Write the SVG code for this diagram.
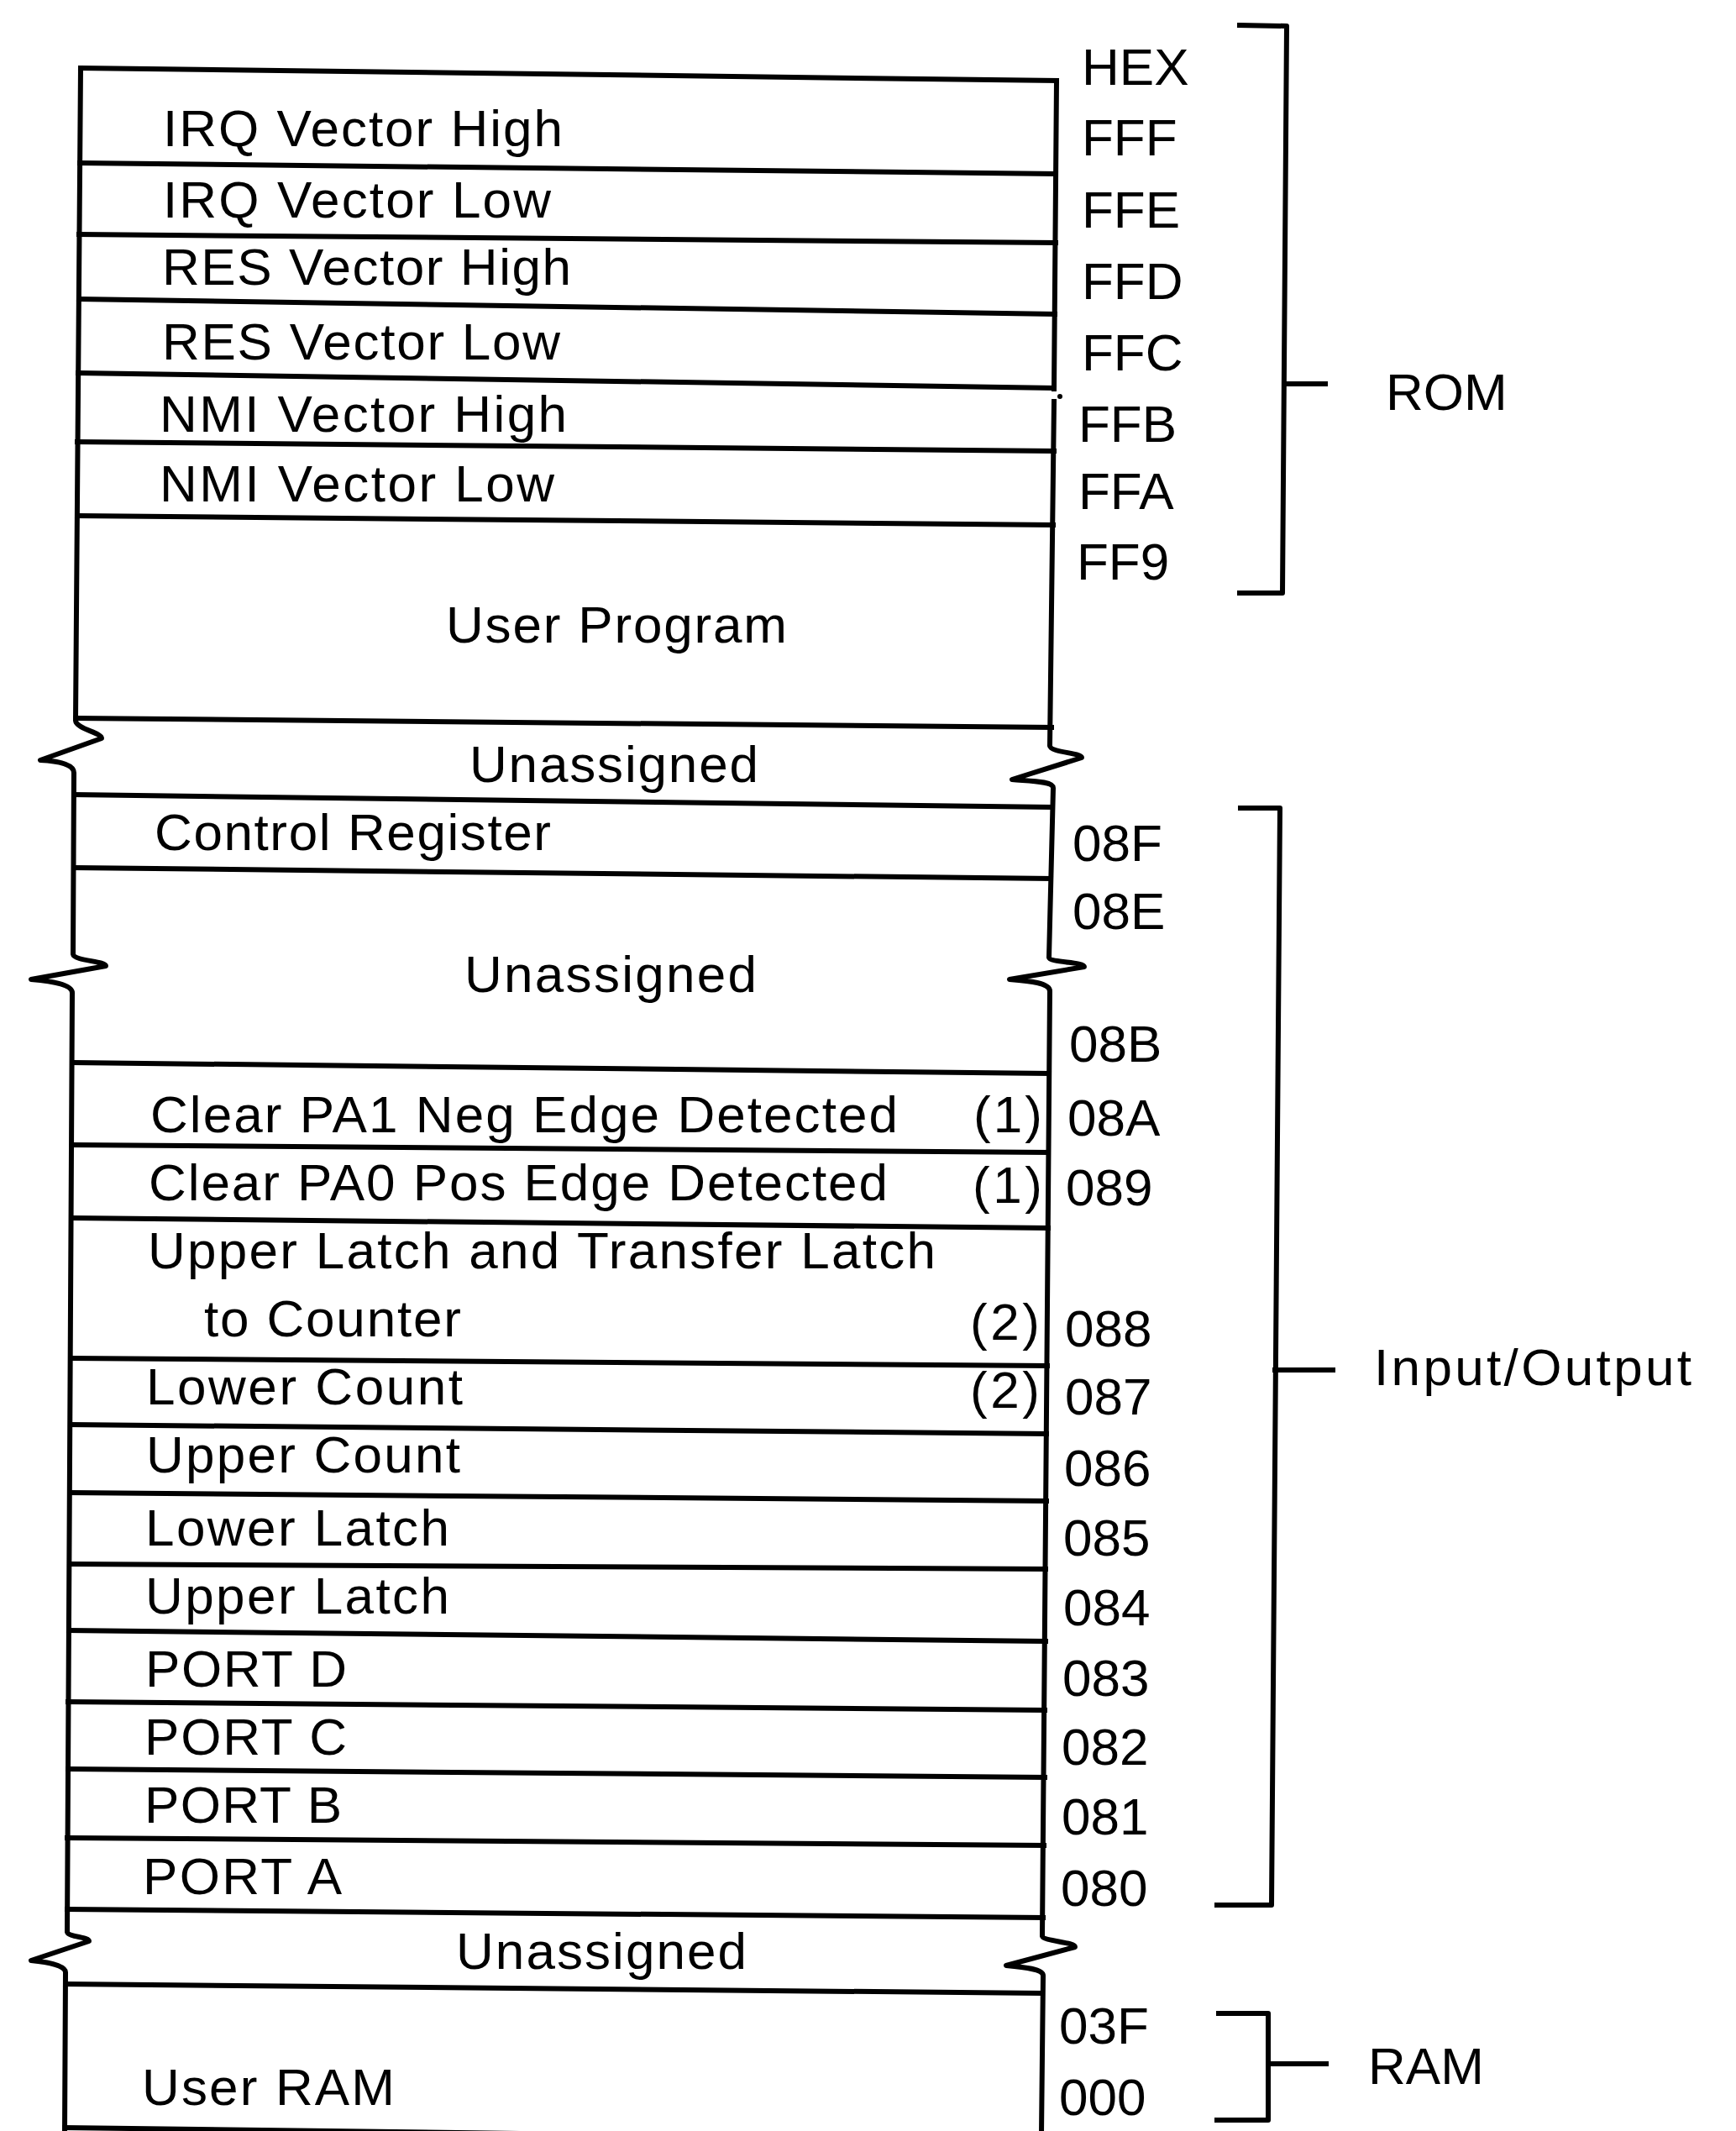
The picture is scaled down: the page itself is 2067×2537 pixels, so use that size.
<svg xmlns="http://www.w3.org/2000/svg" width="2067" height="2537" viewBox="0 0 2067 2537">
<style>
.ln{stroke:#000;stroke-width:6;fill:none;stroke-linecap:square;stroke-linejoin:round}
.t{font-family:"Liberation Sans",Arial,Helvetica,sans-serif;font-size:62px;fill:#000}
.a{font-family:"Liberation Sans",Arial,Helvetica,sans-serif;font-size:62px;fill:#000}
</style>
<rect width="2067" height="2537" fill="#fff"/>
<g id="frame">
<path class="ln" d="M96,81 L90,858 C91,868 121,872 121,879 L48,905 C70,906 88,910 88,920 L87,1136 C88,1144 126,1144 126,1150 L37,1166 C60,1168 86,1172 86,1182 L80,2300 C81,2306 106,2306 106,2311 L37,2334 C58,2336 78,2340 78,2348 L77,2540"/>
<path class="ln" d="M1258,96 L1255,463"/>
<path class="ln" d="M1255,478 L1250,888 C1251,896 1288,896 1288,902 L1205,928 C1230,930 1254,930 1254,938 L1249,1140 C1250,1146 1291,1145 1291,1151 L1202,1166 C1226,1168 1250,1170 1250,1180 L1241,2305 C1242,2311 1280,2312 1280,2318 L1198,2340 C1220,2342 1242,2344 1242,2352 L1240,2540"/>
<circle cx="1262" cy="472" r="3" fill="#000"/>
<path class="ln" d="M96,81 L1258,96"/>
<path class="ln" d="M95,194 L1257,207"/>
<path class="ln" d="M94,279 L1257,289"/>
<path class="ln" d="M94,356 L1256,374"/>
<path class="ln" d="M93,444 L1255,462"/>
<path class="ln" d="M92,526 L1255,537"/>
<path class="ln" d="M92,614 L1254,625"/>
<path class="ln" d="M90,855 L1252,866"/>
<path class="ln" d="M89,946 L1252,961"/>
<path class="ln" d="M89,1033 L1251,1046"/>
<path class="ln" d="M87,1265 L1249,1278"/>
<path class="ln" d="M86,1363 L1248,1372"/>
<path class="ln" d="M86,1450 L1248,1462"/>
<path class="ln" d="M84,1617 L1247,1626"/>
<path class="ln" d="M84,1696 L1246,1707"/>
<path class="ln" d="M83,1777 L1246,1787"/>
<path class="ln" d="M83,1862 L1245,1868"/>
<path class="ln" d="M82,1941 L1245,1954"/>
<path class="ln" d="M81,2026 L1244,2036"/>
<path class="ln" d="M81,2106 L1244,2116"/>
<path class="ln" d="M80,2188 L1243,2197"/>
<path class="ln" d="M80,2273 L1242,2283"/>
<path class="ln" d="M78,2362 L1241,2373"/>
<path class="ln" d="M77,2533 L1240,2548"/>
</g>
<g id="irq-high"><text class="t" x="194" y="174" textLength="476" lengthAdjust="spacing">IRQ Vector High</text><text class="a" x="1288" y="101">HEX</text><text class="a" x="1288" y="185">FFF</text></g>
<g id="irq-low"><text class="t" x="194" y="259" textLength="462" lengthAdjust="spacing">IRQ Vector Low</text><text class="a" x="1288" y="271">FFE</text></g>
<g id="res-high"><text class="t" x="193" y="339" textLength="487" lengthAdjust="spacing">RES Vector High</text><text class="a" x="1288" y="356">FFD</text></g>
<g id="res-low"><text class="t" x="193" y="428" textLength="474" lengthAdjust="spacing">RES Vector Low</text><text class="a" x="1288" y="441">FFC</text></g>
<g id="nmi-high"><text class="t" x="190" y="514" textLength="485" lengthAdjust="spacing">NMI Vector High</text><text class="a" x="1284" y="526">FFB</text></g>
<g id="nmi-low"><text class="t" x="190" y="597" textLength="470" lengthAdjust="spacing">NMI Vector Low</text><text class="a" x="1284" y="606">FFA</text></g>
<g id="user-program"><text class="t" x="531" y="765" textLength="406" lengthAdjust="spacing">User Program</text><text class="a" x="1282" y="690">FF9</text></g>
<g id="unassigned-1"><text class="t" x="559" y="931" textLength="344" lengthAdjust="spacing">Unassigned</text></g>
<g id="control-register"><text class="t" x="184" y="1012" textLength="472" lengthAdjust="spacing">Control Register</text><text class="a" x="1277" y="1025">08F</text></g>
<g id="unassigned-2"><text class="t" x="553" y="1181" textLength="348" lengthAdjust="spacing">Unassigned</text><text class="a" x="1277" y="1106">08E</text><text class="a" x="1273" y="1264">08B</text></g>
<g id="clear-pa1"><text class="t" x="179" y="1348" textLength="890" lengthAdjust="spacing">Clear PA1 Neg Edge Detected</text><text class="t" x="1159" y="1348" textLength="82" lengthAdjust="spacing">(1)</text><text class="a" x="1271" y="1352">08A</text></g>
<g id="clear-pa0"><text class="t" x="177" y="1429" textLength="880" lengthAdjust="spacing">Clear PA0 Pos Edge Detected</text><text class="t" x="1158" y="1432" textLength="83" lengthAdjust="spacing">(1)</text><text class="a" x="1269" y="1435">089</text></g>
<g id="upper-latch-transfer"><text class="t" x="176" y="1510" textLength="938" lengthAdjust="spacing">Upper Latch and Transfer Latch</text><text class="t" x="243" y="1591" textLength="306" lengthAdjust="spacing">to Counter</text><text class="t" x="1155" y="1595" textLength="83" lengthAdjust="spacing">(2)</text><text class="a" x="1268" y="1603">088</text></g>
<g id="lower-count"><text class="t" x="174" y="1672" textLength="377" lengthAdjust="spacing">Lower Count</text><text class="t" x="1155" y="1676" textLength="83" lengthAdjust="spacing">(2)</text><text class="a" x="1268" y="1684">087</text></g>
<g id="upper-count"><text class="t" x="174" y="1753" textLength="374" lengthAdjust="spacing">Upper Count</text><text class="a" x="1267" y="1769">086</text></g>
<g id="lower-latch"><text class="t" x="173" y="1840" textLength="362" lengthAdjust="spacing">Lower Latch</text><text class="a" x="1266" y="1852">085</text></g>
<g id="upper-latch"><text class="t" x="173" y="1921" textLength="362" lengthAdjust="spacing">Upper Latch</text><text class="a" x="1266" y="1935">084</text></g>
<g id="port-d"><text class="t" x="173" y="2008" textLength="240" lengthAdjust="spacing">PORT D</text><text class="a" x="1265" y="2019">083</text></g>
<g id="port-c"><text class="t" x="172" y="2089" textLength="241" lengthAdjust="spacing">PORT C</text><text class="a" x="1264" y="2101">082</text></g>
<g id="port-b"><text class="t" x="172" y="2170" textLength="235" lengthAdjust="spacing">PORT B</text><text class="a" x="1264" y="2184">081</text></g>
<g id="port-a"><text class="t" x="170" y="2255" textLength="237" lengthAdjust="spacing">PORT A</text><text class="a" x="1263" y="2269">080</text></g>
<g id="unassigned-3"><text class="t" x="543" y="2344" textLength="346" lengthAdjust="spacing">Unassigned</text></g>
<g id="user-ram"><text class="t" x="169" y="2506" textLength="301" lengthAdjust="spacing">User RAM</text><text class="a" x="1261" y="2433">03F</text><text class="a" x="1261" y="2518">000</text></g>
<g id="connectors">
<path class="ln" d="M1476,30 L1532,31 L1527,706 L1476,706"/>
<path class="ln" d="M1530,457 L1578,457"/>
<path class="ln" d="M1477,962 L1524,962 L1514,2268 L1449,2268"/>
<path class="ln" d="M1518,1631 L1587,1631"/>
<path class="ln" d="M1451,2397 L1510,2397 L1510,2524 L1449,2524"/>
<path class="ln" d="M1512,2457 L1579,2457"/>
</g>
<g id="rom"><text class="a" x="1650" y="488">ROM</text></g>
<g id="io"><text class="a" x="1636" y="1649" textLength="378" lengthAdjust="spacing">Input/Output</text></g>
<g id="ram"><text class="a" x="1629" y="2481">RAM</text></g>
</svg>
